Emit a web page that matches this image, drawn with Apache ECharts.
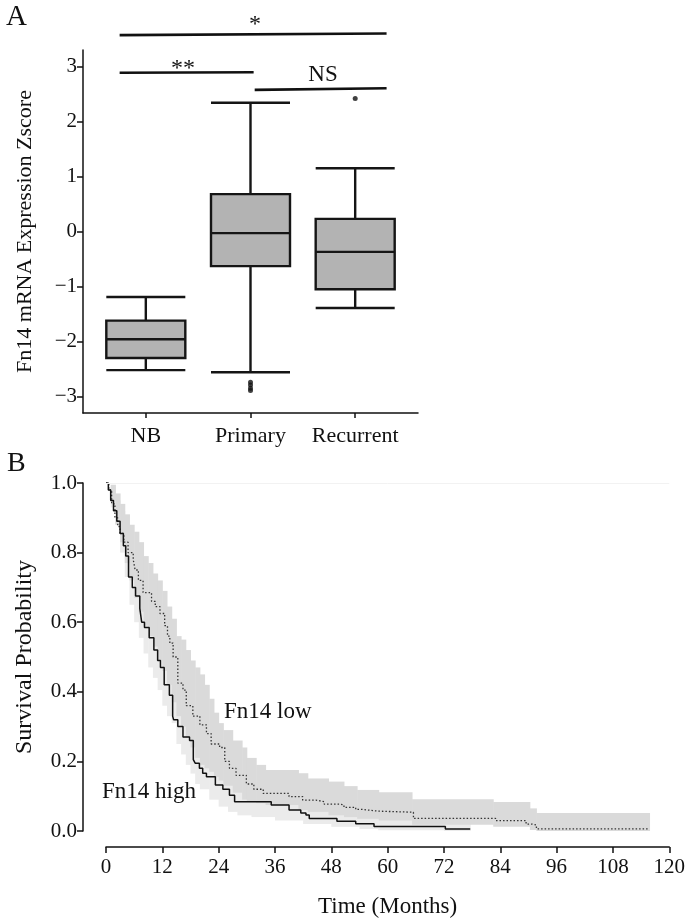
<!DOCTYPE html>
<html><head><meta charset="utf-8">
<script src="https://cdn.jsdelivr.net/npm/echarts@6/dist/echarts.min.js"></script>
<style>html,body{margin:0;padding:0;background:#fff}#c{width:688px;height:920px}</style>
</head><body><div id="c"></div>
<script>
// ---------- Panel A data ----------
const groups = ['NB', 'Primary', 'Recurrent'];
const groupPos = [1, 2, 3];
// [min, Q1, median, Q3, max]
const boxNB = [-2.52, -2.30, -1.96, -1.62, -1.19];
const boxPrimary = [-2.56, -0.63, -0.03, 0.68, 2.34];
const boxRecurrent = [-1.39, -1.05, -0.37, 0.23, 1.15];
const means = [-1.96, -0.07, -0.18];
const outliers = [[2, -2.74], [2, -2.79], [2, -2.85], [2, -2.89], [3, 2.42]];
const yTicksA = [-3, -2, -1, 0, 1, 2, 3];
// significance bars: [x1, y1, x2, y2]
const sigStar = [0.75, 3.57, 3.30, 3.60];
const sigTwoStar = [0.75, 2.885, 2.03, 2.895];
const sigNS = [2.04, 2.575, 3.30, 2.605];

// ---------- Panel B data ----------
const highTime = [0,0.5,1,1.6,2.3,3,3.7,4.2,4.8,5.6,6.3,7.2,7.6,8.2,9.2,10.2,11,11.6,12.4,13.5,14.2,14.4,15.3,16.4,17.8,18.6,19,19.9,20.6,21.4,23.3,24.9,26.3,27.4,35.2,39,41.5,42.6,43.3,49.2,53.2,57.1,72.3,77.6];
const highSurv = [1,0.98,0.95,0.92,0.89,0.855,0.82,0.79,0.73,0.70,0.675,0.64,0.60,0.585,0.555,0.52,0.49,0.47,0.42,0.39,0.33,0.32,0.30,0.27,0.26,0.205,0.195,0.18,0.166,0.156,0.132,0.12,0.103,0.084,0.075,0.06,0.052,0.046,0.036,0.028,0.021,0.013,0.006,0.006];
const lowTime = [0,0.6,1.2,1.9,2.5,3,3.8,4.7,5.8,6.2,6.9,7.9,9.7,10.5,11.5,12.5,13.1,13.6,14.3,15.3,16.4,17.1,18.5,20,21.4,22.4,24.2,25.3,26.3,27.7,29.9,31.5,33.5,39,41.9,44.7,46.5,49.7,50.7,53.2,54.6,58,65.5,83,89.5,90.7,91.7,115.8];
const lowSurv = [1,0.98,0.94,0.90,0.875,0.855,0.83,0.80,0.78,0.75,0.72,0.685,0.66,0.645,0.625,0.59,0.56,0.54,0.50,0.425,0.405,0.36,0.33,0.305,0.28,0.25,0.24,0.20,0.18,0.16,0.135,0.12,0.108,0.099,0.089,0.084,0.077,0.075,0.068,0.062,0.057,0.054,0.036,0.030,0.020,0.017,0.006,0.006];

const highCiTime = [0,1,2,3,4,5,6,7,8,9,10,11,12,13,14,15,16,17,18,19,20,22,24,26,28,31,36,42,48,54,58,72,77.6];
const highCiLo = [1,0.93,0.88,0.80,0.73,0.65,0.60,0.555,0.51,0.47,0.44,0.405,0.36,0.33,0.31,0.25,0.22,0.19,0.165,0.135,0.12,0.09,0.07,0.055,0.045,0.04,0.03,0.02,0.012,0.006,0.002,0.0,0.0];
const highCiHi = [1,0.99,0.95,0.92,0.87,0.80,0.76,0.72,0.67,0.635,0.60,0.57,0.52,0.48,0.42,0.39,0.36,0.34,0.30,0.27,0.25,0.23,0.20,0.175,0.15,0.14,0.13,0.115,0.08,0.07,0.06,0.03,0.03];
const lowCiTime = [0,1,2,3,4,5,6,7,8,9,10,11,12,13,14,15,16,17,18,19,20,21,22,23,24,25,27,29,30,32,34,41,43,47.4,50.7,53.5,58.1,65.2,82.5,90.3,91.7,115.8];
const lowCiLo = [1,0.95,0.88,0.83,0.77,0.72,0.67,0.63,0.59,0.56,0.53,0.49,0.46,0.42,0.37,0.33,0.30,0.27,0.24,0.21,0.19,0.18,0.17,0.155,0.145,0.13,0.11,0.09,0.085,0.08,0.075,0.06,0.055,0.045,0.04,0.035,0.03,0.018,0.012,0.003,0.0,0.0];
const lowCiHi = [1,0.995,0.97,0.94,0.91,0.88,0.86,0.83,0.79,0.77,0.74,0.72,0.69,0.645,0.61,0.56,0.55,0.52,0.49,0.47,0.45,0.42,0.38,0.34,0.31,0.29,0.26,0.24,0.21,0.19,0.175,0.166,0.151,0.142,0.129,0.118,0.111,0.091,0.083,0.065,0.052,0.052];

// ---------- build ----------
const FONT = '"Liberation Serif", "DejaVu Serif", serif';
const zip = (a, b) => a.map((v, i) => [v, b[i]]);
function ciRects(t, lo, hi) {
  const out = [];
  for (let i = 0; i < t.length - 1; i++) out.push([t[i], t[i + 1], lo[i], hi[i]]);
  return out;
}
function ribbon(data, color) {
  return {
    type: 'custom', xAxisIndex: 1, yAxisIndex: 1, silent: true,
    encode: { x: [0, 1], y: [2, 3] },
    data: data,
    renderItem: function (params, api) {
      const p1 = api.coord([api.value(0), api.value(3)]);
      const p2 = api.coord([api.value(1), api.value(2)]);
      return {
        type: 'rect',
        shape: { x: p1[0], y: p1[1], width: p2[0] - p1[0] + 0.5, height: p2[1] - p1[1] },
        style: { fill: color }
      };
    }
  };
}
function sigLine(s) {
  return {
    type: 'line', xAxisIndex: 0, yAxisIndex: 0, clip: false, silent: true,
    symbol: 'none', data: [[s[0], s[1]], [s[2], s[3]]],
    lineStyle: { color: '#111', width: 2.6 }
  };
}
const boxData = [boxNB, boxPrimary, boxRecurrent].map((b, i) => [groupPos[i]].concat(b));
const HALF_BOX = 0.377;

const chart = echarts.init(document.getElementById('c'), null, { renderer: 'canvas' });
const axisText = { color: '#111', fontFamily: FONT, fontSize: 21 };
chart.setOption({
  animation: false,
  backgroundColor: '#fff',
  grid: [
    { left: 83, right: 270, top: 50, bottom: 507 },
    { left: 106, right: 16, top: 483, bottom: 89 }
  ],
  xAxis: [
    {
      gridIndex: 0, type: 'value', min: 0.4, max: 3.6,
      splitLine: { show: false },
      axisLine: { onZero: false, lineStyle: { color: '#111', width: 1.5 } },
      axisTick: { show: true, length: 5, customValues: groupPos, lineStyle: { color: '#111', width: 1.5 } },
      axisLabel: Object.assign({ customValues: groupPos, margin: 12,
        formatter: v => groups[Math.round(v) - 1] || '' }, axisText, { fontSize: 22 })
    },
    {
      gridIndex: 1, type: 'value', min: 0, max: 120, interval: 12, offset: 16,
      splitLine: { show: false },
      axisLine: { onZero: false, lineStyle: { color: '#111', width: 1.5 } },
      axisTick: { length: 6, lineStyle: { color: '#111', width: 1.5 } },
      axisLabel: Object.assign({ margin: 10 }, axisText),
      name: 'Time (Months)', nameLocation: 'middle', nameGap: 48,
      nameTextStyle: { color: '#111', fontFamily: FONT, fontSize: 23 }
    }
  ],
  yAxis: [
    {
      gridIndex: 0, type: 'value', min: -3.3, max: 3.3,
      splitLine: { show: false },
      axisLine: { show: true, onZero: false, lineStyle: { color: '#111', width: 1.5 } },
      axisTick: { show: true, length: 6, customValues: yTicksA, lineStyle: { color: '#111', width: 1.5 } },
      axisLabel: Object.assign({ customValues: yTicksA, margin: 6,
        formatter: v => (v < 0 ? '\u2212' + Math.abs(v) : String(v)) }, axisText),
      name: 'Fn14 mRNA Expression Zscore', nameLocation: 'middle', nameGap: 47, nameRotate: 90,
      nameTextStyle: { color: '#111', fontFamily: FONT, fontSize: 22 }
    },
    {
      gridIndex: 1, type: 'value', min: 0, max: 1, interval: 0.2, offset: 23,
      splitLine: { show: false },
      axisLine: { show: true, onZero: false, lineStyle: { color: '#111', width: 1.5 } },
      axisTick: { show: true, length: 6, lineStyle: { color: '#111', width: 1.5 } },
      axisLabel: Object.assign({ margin: 6, formatter: v => v.toFixed(1) }, axisText),
      name: 'Survival Probability', nameLocation: 'middle', nameGap: 46, nameRotate: 90,
      nameTextStyle: { color: '#111', fontFamily: FONT, fontSize: 24 }
    }
  ],
  series: [
    {
      type: 'boxplot', xAxisIndex: 0, yAxisIndex: 0, data: boxData,
      boxWidth: [79, 79],
      itemStyle: { color: '#b3b3b3', borderColor: '#151515', borderWidth: 2.4 }
    },
    {
      type: 'custom', xAxisIndex: 0, yAxisIndex: 0, silent: true,
      data: groupPos.map((p, i) => [p, means[i]]),
      renderItem: function (params, api) {
        const a = api.coord([api.value(0) - HALF_BOX, api.value(1)]);
        const b = api.coord([api.value(0) + HALF_BOX, api.value(1)]);
        return { type: 'line', shape: { x1: a[0] + 2, y1: a[1], x2: b[0] - 2, y2: b[1] },
          style: { stroke: '#777', lineWidth: 1.2, lineDash: [4, 3] } };
      }
    },
    {
      type: 'scatter', xAxisIndex: 0, yAxisIndex: 0, data: outliers,
      symbolSize: 5, itemStyle: { color: '#111' }
    },
    sigLine(sigStar), sigLine(sigTwoStar), sigLine(sigNS),
    ribbon(ciRects(highCiTime, highCiLo, highCiHi), '#ebebeb'),
    ribbon(ciRects(lowCiTime, lowCiLo, lowCiHi), '#dadada'),
    {
      type: 'line', xAxisIndex: 1, yAxisIndex: 1, step: 'end', symbol: 'none',
      data: zip(lowTime, lowSurv),
      lineStyle: { color: '#333', width: 1.3, type: [1.5, 2] }
    },
    {
      type: 'line', xAxisIndex: 1, yAxisIndex: 1, step: 'end', symbol: 'none',
      data: zip(highTime, highSurv),
      lineStyle: { color: '#111', width: 1.5 },
      markLine: { silent: true, symbol: 'none', label: { show: false },
        lineStyle: { color: '#f2f2f2', width: 1, type: 'solid' },
        data: [[{ coord: [0, 1] }, { coord: [120, 1] }]] }
    }
  ],
  graphic: [
    { type: 'text', left: 6, top: 3, style: { text: 'A', font: '29px ' + FONT, fill: '#111' } },
    { type: 'text', left: 7, top: 450, style: { text: 'B', font: '28px ' + FONT, fill: '#111' } },
    { type: 'text', x: 255, y: 25, style: { text: '*', font: '24px ' + FONT, fill: '#111', align: 'center', verticalAlign: 'middle' } },
    { type: 'text', x: 183, y: 69, style: { text: '**', font: '24px ' + FONT, fill: '#111', align: 'center', verticalAlign: 'middle' } },
    { type: 'text', x: 323, y: 75, style: { text: 'NS', font: '23px ' + FONT, fill: '#111', align: 'center', verticalAlign: 'middle' } },
    { type: 'text', x: 224, y: 712, style: { text: 'Fn14 low', font: '23px ' + FONT, fill: '#111', verticalAlign: 'middle' } },
    { type: 'text', x: 102, y: 792, style: { text: 'Fn14 high', font: '23px ' + FONT, fill: '#111', verticalAlign: 'middle' } }
  ]
});
</script></body></html>
